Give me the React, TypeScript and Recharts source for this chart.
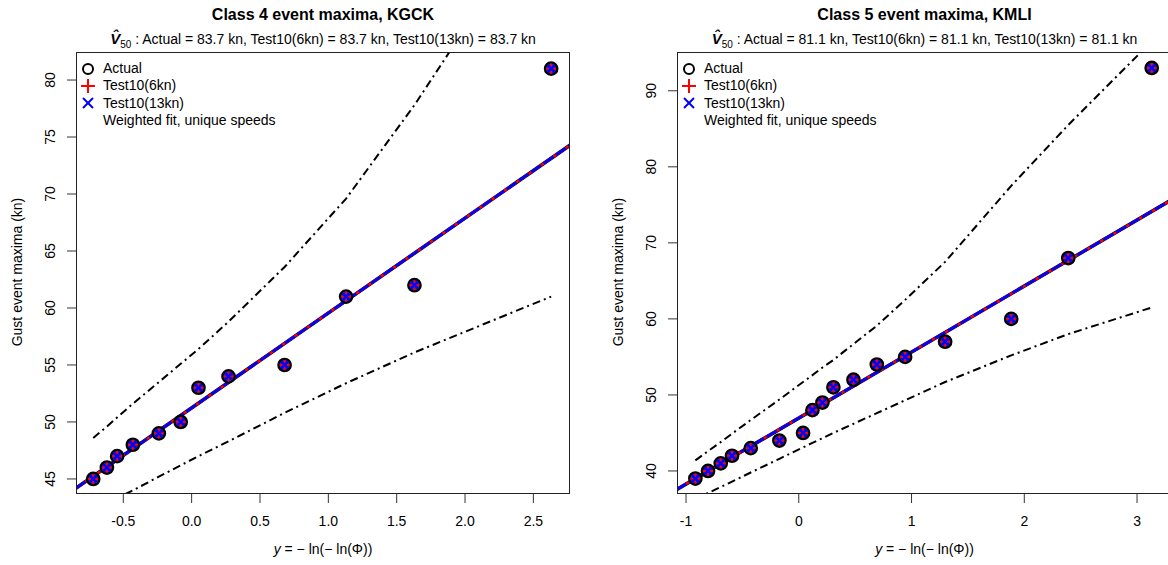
import React from "react";
import { ComposedChart, Line, Scatter, XAxis, YAxis } from "recharts";

// Class 4 event maxima, KGCK
const kgckReduced = [-0.72, -0.62, -0.545, -0.43, -0.24, -0.08, 0.05, 0.27, 0.68, 1.13, 1.63, 2.63];
const kgckGust = [45, 46, 47, 48, 49, 50, 53, 54, 55, 61, 62, 81];
const kgckUpper = [48.6, 49.6, 50.4, 51.6, 53.5, 55.1, 56.4, 58.8, 63.6, 69.6, 77.8, 96];
const kgckLower = [42.2, 42.8, 43.3, 44.0, 45.2, 46.2, 47.0, 48.3, 50.8, 53.4, 56.1, 61.0];
const kgckFitX = [-0.85, 2.77];
const kgckFitY = [44.15, 74.3];
const kgckXTicks = [-0.5, 0, 0.5, 1, 1.5, 2, 2.5];
const kgckYTicks = [45, 50, 55, 60, 65, 70, 75, 80];

// Class 5 event maxima, KMLI
const kmliReduced = [-0.917, -0.805, -0.692, -0.592, -0.426, -0.172, 0.038, 0.121, 0.21, 0.307, 0.485, 0.692, 0.943, 1.298, 1.884, 2.39, 3.13];
const kmliGust = [39, 40, 41, 42, 43, 44, 45, 48, 49, 51, 52, 54, 55, 57, 60, 68, 93];
const kmliUpper = [41.4, 42.6, 43.8, 44.9, 46.7, 49.4, 51.7, 52.6, 53.6, 54.6, 56.7, 59.1, 62.5, 67.5, 77.5, 85.5, 96.5];
const kmliLower = [36.3, 37.1, 37.9, 38.6, 39.8, 41.6, 43.1, 43.7, 44.3, 45.0, 46.2, 47.6, 49.3, 51.7, 55.2, 58.0, 61.5];
const kmliFitX = [-1.09, 3.3];
const kmliFitY = [37.5, 75.6];
const kmliXTicks = [-1, 0, 1, 2, 3];
const kmliYTicks = [40, 50, 60, 70, 80, 90];

const FONT = "'Liberation Sans', Arial, Helvetica, sans-serif";
const H = 565;
const PLOT_TOP = 52;
const PLOT_BOTTOM = 494;

const zip = (xs: number[], ys: number[]) => xs.map((x, i) => ({ x, y: ys[i] }));

const ActualDot = (p: any) => (
  <circle cx={p.cx} cy={p.cy} r={6.2} fill="#1b24c9" stroke="#000" strokeWidth={2.3} />
);
const PlusDot = (p: any) => (
  <g stroke="#ff0000" strokeWidth={2}>
    <line x1={p.cx - 5} y1={p.cy} x2={p.cx + 5} y2={p.cy} />
    <line x1={p.cx} y1={p.cy - 5} x2={p.cx} y2={p.cy + 5} />
  </g>
);
const CrossDot = (p: any) => (
  <g stroke="#0000ff" strokeWidth={2.4}>
    <line x1={p.cx - 3.3} y1={p.cy - 3.3} x2={p.cx + 3.3} y2={p.cy + 3.3} />
    <line x1={p.cx - 3.3} y1={p.cy + 3.3} x2={p.cx + 3.3} y2={p.cy - 3.3} />
  </g>
);

function Legend({ left }: { left: number }) {
  const rows = [
    { label: "Actual", sym: <circle cx={7} cy={7} r={5} fill="none" stroke="#000" strokeWidth={2} /> },
    {
      label: "Test10(6kn)",
      sym: (
        <g stroke="#ff0000" strokeWidth={2}>
          <line x1={0} y1={7} x2={14} y2={7} />
          <line x1={7} y1={0} x2={7} y2={14} />
        </g>
      ),
    },
    {
      label: "Test10(13kn)",
      sym: (
        <g stroke="#0000ff" strokeWidth={2}>
          <line x1={2} y1={2} x2={12} y2={12} />
          <line x1={2} y1={12} x2={12} y2={2} />
        </g>
      ),
    },
    { label: "Weighted fit, unique speeds", sym: null },
  ];
  return (
    <div style={{ position: "absolute", left, top: 60, fontFamily: FONT, fontSize: 14, lineHeight: "17.3px" }}>
      {rows.map((r) => (
        <div key={r.label} style={{ display: "flex", alignItems: "center", whiteSpace: "nowrap" }}>
          <svg width={14} height={14} style={{ marginRight: 8 }}>
            {r.sym}
          </svg>
          <span>{r.label}</span>
        </div>
      ))}
    </div>
  );
}

interface PanelProps {
  left: number;
  width: number;
  plotLeft: number;
  plotRight: number;
  title: string;
  v50: string;
  xs: number[];
  ys: number[];
  upper: number[];
  lower: number[];
  fitX: number[];
  fitY: number[];
  xDomain: [number, number];
  yDomain: [number, number];
  xTicks: number[];
  yTicks: number[];
  xFmt: (v: number) => string;
}

function Panel(p: PanelProps) {
  const pts = zip(p.xs, p.ys);
  const up = zip(p.xs, p.upper);
  const lo = zip(p.xs, p.lower);
  const fit = zip(p.fitX, p.fitY);
  const center = (p.plotLeft + p.plotRight) / 2;
  const YTick = (t: any) => {
    const x = p.plotLeft - 26;
    return (
      <text
        x={x}
        y={t.y}
        transform={`rotate(-90, ${x}, ${t.y})`}
        textAnchor="middle"
        dy="0.35em"
        fontSize={14}
        fontFamily={FONT}
        fill="#000"
      >
        {t.payload.value}
      </text>
    );
  };
  const band = { stroke: "#000", strokeWidth: 2, strokeDasharray: "8 4 2 4", dot: false, isAnimationActive: false, type: "linear" as const };
  return (
    <div style={{ position: "absolute", left: p.left, top: 0, width: p.width, height: H }}>
      <ComposedChart
        width={p.width}
        height={H}
        margin={{ top: PLOT_TOP, right: p.width - p.plotRight, bottom: H - PLOT_BOTTOM - 30, left: p.plotLeft - 60 }}
      >
        <XAxis
          type="number"
          dataKey="x"
          domain={p.xDomain}
          allowDataOverflow
          ticks={p.xTicks}
          interval={0}
          tickFormatter={p.xFmt}
          axisLine={false}
          tickLine={{ stroke: "#333" }}
          tickSize={9}
          tickMargin={13}
          tick={{ fill: "#000", fontSize: 14, fontFamily: FONT }}
          height={30}
        />
        <YAxis
          type="number"
          dataKey="y"
          domain={p.yDomain}
          allowDataOverflow
          ticks={p.yTicks}
          interval={0}
          axisLine={false}
          tickLine={{ stroke: "#333" }}
          tickSize={9}
          tick={YTick}
          width={60}
        />
        <Line data={up} dataKey="y" {...band} />
        <Line data={lo} dataKey="y" {...band} />
        <Line data={fit} dataKey="y" stroke="#000" strokeWidth={3.6} dot={false} isAnimationActive={false} />
        <Line data={fit} dataKey="y" stroke="#ff0000" strokeWidth={2.6} dot={false} isAnimationActive={false} />
        <Line data={fit} dataKey="y" stroke="#0000ff" strokeWidth={2.6} strokeDasharray="12 3" dot={false} isAnimationActive={false} />
        <Scatter name="Actual" data={pts} dataKey="y" shape={ActualDot} isAnimationActive={false} />
        <Scatter name="Test10(6kn)" data={pts} dataKey="y" shape={PlusDot} isAnimationActive={false} />
        <Scatter name="Test10(13kn)" data={pts} dataKey="y" shape={CrossDot} isAnimationActive={false} />
      </ComposedChart>
      <div
        style={{
          position: "absolute",
          left: p.plotLeft,
          top: PLOT_TOP,
          width: p.plotRight - p.plotLeft,
          height: PLOT_BOTTOM - PLOT_TOP,
          border: "1px solid #222",
          boxSizing: "border-box",
          pointerEvents: "none",
        }}
      />
      <Legend left={p.plotLeft + 5} />
      <div
        style={{
          position: "absolute",
          left: center - 300,
          width: 600,
          top: 6,
          textAlign: "center",
          fontFamily: FONT,
          fontWeight: "bold",
          fontSize: 16,
        }}
      >
        {p.title}
      </div>
      <div
        style={{
          position: "absolute",
          left: center - 300,
          width: 600,
          top: 30,
          textAlign: "center",
          fontFamily: FONT,
          fontSize: 14,
          whiteSpace: "nowrap",
        }}
      >
        <span style={{ fontWeight: "bold", fontStyle: "italic", fontSize: 15 }}>V̂</span>
        <sub style={{ fontSize: 10 }}>50</sub> : Actual = {p.v50} kn, Test10(6kn) = {p.v50} kn, Test10(13kn) = {p.v50} kn
      </div>
      <div
        style={{
          position: "absolute",
          left: center - 150,
          width: 300,
          top: 541,
          textAlign: "center",
          fontFamily: FONT,
          fontSize: 14,
        }}
      >
        <i>y</i> = − ln(− ln(Φ))
      </div>
      <div
        style={{
          position: "absolute",
          left: p.plotLeft - 59 - 150,
          top: (PLOT_TOP + PLOT_BOTTOM) / 2 - 9,
          width: 300,
          textAlign: "center",
          transform: "rotate(-90deg)",
          fontFamily: FONT,
          fontSize: 14,
        }}
      >
        Gust event maxima (kn)
      </div>
    </div>
  );
}

export default function App() {
  return (
    <div
      style={{
        position: "fixed",
        left: 0,
        top: 0,
        width: 1168,
        height: H,
        background: "#fff",
        overflow: "hidden",
      }}
    >
      <Panel
        left={0}
        width={584}
        plotLeft={76}
        plotRight={570}
        title="Class 4 event maxima, KGCK"
        v50="83.7"
        xs={kgckReduced}
        ys={kgckGust}
        upper={kgckUpper}
        lower={kgckLower}
        fitX={kgckFitX}
        fitY={kgckFitY}
        xDomain={[-0.846, 2.768]}
        yDomain={[43.68, 82.46]}
        xTicks={kgckXTicks}
        yTicks={kgckYTicks}
        xFmt={(v) => v.toFixed(1)}
      />
      <Panel
        left={584}
        width={592}
        plotLeft={93}
        plotRight={588}
        title="Class 5 event maxima, KMLI"
        v50="81.1"
        xs={kmliReduced}
        ys={kmliGust}
        upper={kmliUpper}
        lower={kmliLower}
        fitX={kmliFitX}
        fitY={kmliFitY}
        xDomain={[-1.08, 3.31]}
        yDomain={[36.97, 95.1]}
        xTicks={kmliXTicks}
        yTicks={kmliYTicks}
        xFmt={(v) => String(v)}
      />
    </div>
  );
}
